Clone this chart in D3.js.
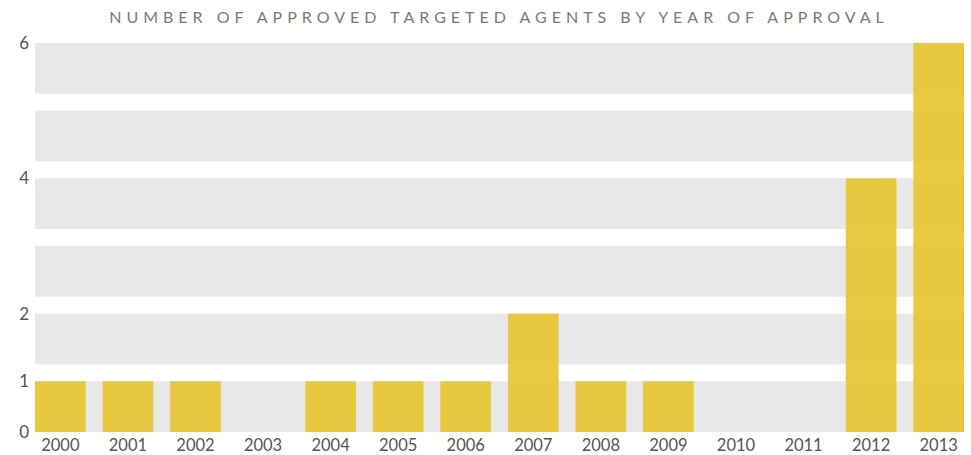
<!DOCTYPE html>
<html>
<head>
<meta charset="utf-8">
<script src="https://cdn.jsdelivr.net/npm/d3@7"></script>
<style>
  body { margin: 0; background: #fff; }
  svg { display: block; font-family: Lato, "Noto Sans", sans-serif; }
</style>
</head>
<body>
<div id="chart"></div>
<script>
// data
var years = ["2000", "2001", "2002", "2003", "2004", "2005", "2006",
             "2007", "2008", "2009", "2010", "2011", "2012", "2013"]
var approved = [1, 1, 1, 0, 1, 1, 1, 2, 1, 1, 0, 0, 4, 6]
var rowValues = [6, 5, 4, 3, 2, 1]
var tickValues = [0, 1, 2, 4, 6]
var title = "NUMBER OF APPROVED TARGETED AGENTS BY YEAR OF APPROVAL"

var width = 971, height = 455
var plotLeft = 35, plotRight = 964, plotTop = 43, baseline = 432

var svg = d3.select("#chart").append("svg")
    .attr("width", width)
    .attr("height", height)

var x = d3.scaleBand()
    .domain(years)
    .range([plotLeft, plotRight])
    .paddingInner(0.25)
    .paddingOuter(0)

// each unit is a grey row with a white gap, bars fill whole rows
var rows = d3.scaleBand()
    .domain(rowValues)
    .range([plotTop, baseline])
    .paddingInner(0.25)
    .paddingOuter(0)

var yTop = function(v) { return v === 0 ? baseline : rows(v) }

svg.append("text")
    .attr("x", 499)
    .attr("y", 23)
    .attr("text-anchor", "middle")
    .attr("fill", "#7a7a7a")
    .style("font-size", "16px")
    .style("letter-spacing", "5px")
    .text(title)

svg.append("g").selectAll("rect")
    .data(rowValues)
    .join("rect")
    .attr("x", plotLeft)
    .attr("y", d => rows(d))
    .attr("width", plotRight - plotLeft)
    .attr("height", rows.bandwidth())
    .attr("fill", "#e8e8e8")

svg.append("g").selectAll("rect")
    .data(years.map((y, i) => ({ year: y, value: approved[i] })).filter(d => d.value > 0))
    .join("rect")
    .attr("x", d => x(d.year))
    .attr("y", d => yTop(d.value))
    .attr("width", x.bandwidth())
    .attr("height", d => baseline - yTop(d.value))
    .attr("fill", "#e8c42c")
    .attr("fill-opacity", 0.9)

svg.append("g").selectAll("text")
    .data(tickValues)
    .join("text")
    .attr("x", 29)
    .attr("y", d => yTop(d))
    .attr("dy", "0.36em")
    .attr("text-anchor", "end")
    .attr("fill", "#555")
    .style("font-size", "17px")
    .text(d => d)

svg.append("g").selectAll("text")
    .data(years)
    .join("text")
    .attr("x", d => x(d) + x.bandwidth() / 2)
    .attr("y", 451)
    .attr("text-anchor", "middle")
    .attr("fill", "#555")
    .style("font-size", "16.5px")
    .text(d => d)
</script>
</body>
</html>
